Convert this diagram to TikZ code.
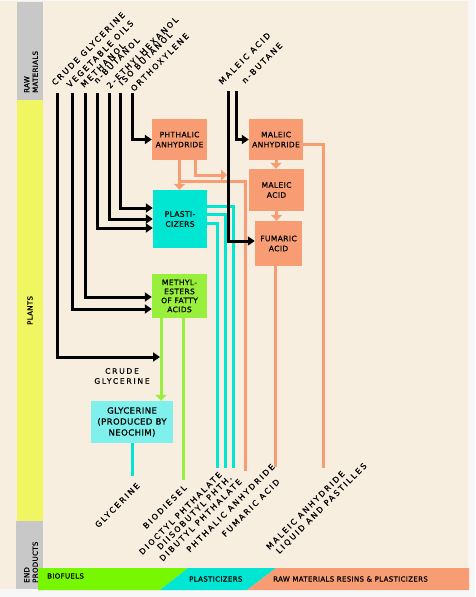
\documentclass[tikz,border=0pt]{standalone}
\usepackage{fontspec}
\newfontfamily\lblfont[LetterSpace=24,FakeBold=0.8]{DejaVu Sans}
\newfontfamily\boxfont[LetterSpace=5,FakeBold=0.8]{DejaVu Sans}
\usetikzlibrary{arrows.meta}
\definecolor{cream}{HTML}{F8EEE0}
\definecolor{colgray}{HTML}{C8C8C8}
\definecolor{colyellow}{HTML}{F0F562}
\definecolor{salmon}{HTML}{F89C74}
\definecolor{cyanbox}{HTML}{00E6D2}
\definecolor{greenbox}{HTML}{99F03C}
\definecolor{greenbar}{HTML}{77F800}
\definecolor{glybox}{HTML}{7FF0EC}

\begin{document}
\begin{tikzpicture}[x=1pt,y=-1pt,
    proc/.style={inner sep=0pt, align=center, font=\boxfont\fontsize{7.5}{10}\selectfont},
    raw/.style={rotate=45, anchor=base west, inner sep=0pt, font=\lblfont\fontsize{8}{9}\selectfont},
    endp/.style={rotate=45, anchor=north east, inner sep=0pt, font=\lblfont\fontsize{8}{9}\selectfont},
    side/.style={rotate=90, anchor=west, inner sep=0pt, align=left, font=\boxfont\fontsize{7}{8.5}\selectfont},
    barlbl/.style={anchor=west, inner sep=0pt, font=\boxfont\fontsize{7}{8}\selectfont},
    blk/.style={line width=3pt, -{Triangle[length=7pt,width=9pt]}},
    sal/.style={draw=salmon, line width=3pt},
    salarr/.style={sal, -{Triangle[length=6pt,width=11pt]}},
    cyn/.style={draw=cyanbox, line width=3pt},
    grn/.style={draw=greenbox, line width=3pt}]
    \useasboundingbox (0,0) rectangle (475,597);
    \fill[white!97!black] (0,0) rectangle (475,597);
    \fill[cream] (0,1) rectangle (468,589);
    % side bands
    \fill[colgray] (17,2) rectangle (43,100);
    \fill[colyellow] (17,100) rectangle (43,521);
    \fill[colgray] (16,521) rectangle (43,589);
    \node[side] (s-raw) at (31,93) {RAW\\MATERIALS};
    \node[side] (s-plants) at (30,325) {PLANTS};
    \node[side] (s-end) at (31,583) {END\\PRODUCTS};
    % bottom bar
    \fill[greenbar] (38,568) -- (188,568) -- (160,590) -- (38,590) -- cycle;
    \fill[cyanbox] (188,568) -- (276,568) -- (247,590) -- (160,590) -- cycle;
    \fill[salmon] (276,568) -- (469,568) -- (469,590) -- (247,590) -- cycle;
    \node[barlbl] (b-bio) at (47,576) {BIOFUELS};
    \node[barlbl] (b-pla) at (189,579) {PLASTICIZERS};
    \node[barlbl] (b-raw) at (273,579) {RAW MATERIALS RESINS \& PLASTICIZERS};

    % raw materials
    \coordinate (crude) at (57,93);
    \coordinate (veg) at (72,93);
    \coordinate (meth) at (85,93);
    \coordinate (nbut) at (97,93);
    \coordinate (ethh) at (109,93);
    \coordinate (isob) at (120,93);
    \coordinate (orth) at (132,93);
    \coordinate (malac) at (228,91);
    \coordinate (nbutane) at (236,91);
    \node[raw] (l-crude) at (55,86) {CRUDE GLYCERINE};
    \node[raw] (l-veg) at (70,88) {VEGETABLE OILS};
    \node[raw] (l-meth) at (84,88) {METHANOL};
    \node[raw] (l-nbut) at (97,84) {n-BUTANOL};
    \node[raw] (l-ethh) at (110,89) {2-ETHYLHEXANOL};
    \node[raw] (l-isob) at (122,86) {ISO BUTANOL};
    \node[raw] (l-orth) at (134,92) {ORTHOXYLENE};
    \node[raw] (l-malac) at (222,85) {MALEIC ACID};
    \node[raw] (l-nbutane) at (245,84) {n-BUTANE};

    % plants
    \node[proc, fill=salmon, minimum width=55pt, minimum height=41pt] (phth) at (179.5,139.5) {PHTHALIC\\ANHYDRIDE};
    \node[proc, fill=salmon, minimum width=54pt, minimum height=41pt] (manh) at (276,139.5) {MALEIC\\ANHYDRIDE};
    \node[proc, fill=salmon, minimum width=55pt, minimum height=42pt] (macid) at (276.5,190) {MALEIC\\ACID};
    \node[proc, fill=salmon, minimum width=47pt, minimum height=45pt] (fum) at (278.5,243.5) {FUMARIC\\ACID};
    \node[proc, fill=cyanbox, minimum width=54pt, minimum height=58pt] (plast) at (180,219) {PLASTI-\\CIZERS};
    \node[proc, fill=greenbox, minimum width=55pt, minimum height=44pt, font=\boxfont\fontsize{7.5}{9}\selectfont] (mest) at (179.5,296) {METHYL-\\ESTERS\\OF FATTY\\ACIDS};
    \node[proc, fill=glybox, minimum width=82pt, minimum height=42pt, font=\boxfont\fontsize{8.5}{11}\selectfont] (glyc) at (132,422) {GLYCERINE\\(PRODUCED BY\\NEOCHIM)};
    \node[inner sep=0pt, align=center, font=\lblfont\fontsize{7.5}{10}\selectfont] (l-cg) at (122,376) {CRUDE\\GLYCERINE};
    \coordinate (gjoin) at (160,357);
    \coordinate (pa-in) at (227,175);

    % end products
    \coordinate (e-gly) at (132,476);
    \coordinate (e-bio) at (183,480);
    \coordinate (e-dop) at (217,468);
    \coordinate (e-dib) at (225,468);
    \coordinate (e-dbp) at (233,468);
    \coordinate (e-pan) at (245,471);
    \coordinate (e-fum) at (275,467);
    \coordinate (e-man) at (323,468);
    \node[endp] (t-gly) at (136,482) {GLYCERINE};
    \node[endp] (t-bio) at (183,484) {BIODIESEL};
    \node[endp] (t-dop) at (218,471) {DIOCTYL PHTHALATE};
    \node[endp] (t-dib) at (228,474) {DIISOBUTYL PHTH.};
    \node[endp] (t-dbp) at (238,478) {DIBUTYL PHTHALATE};
    \node[endp] (t-pan) at (271,463) {PHTHALIC ANHYDRIDE};
    \node[endp] (t-fum) at (276,478) {FUMARIC ACID};
    \node[endp] (t-man) at (341,470) {MALEIC ANHYDRIDE};
    \node[endp] (t-liq) at (363,462) {LIQUID AND PASTILLES};

    % salmon flows
    \draw[salarr] (phth.south) -- (phth.south |- plast.north);
    \draw[salarr] ([xshift=16pt]phth.south) |- (pa-in);
    \draw[sal] ([yshift=-21pt]phth.south) -| (e-pan);
    \draw[salarr] (manh.south) -- (manh.south |- macid.north);
    \draw[salarr] (macid.south) -- (macid.south |- fum.north);
    \draw[sal] ([xshift=-3.5pt]fum.south) -- (e-fum);
    \draw[sal] ([yshift=-4.5pt]manh.east) -| (e-man);

    % cyan and green flows
    \draw[cyn] ([yshift=13pt]plast.east) -| (e-dbp);
    \draw[cyn] ([yshift=5pt]plast.east) -| (e-dib);
    \draw[cyn] ([yshift=-4pt]plast.east) -| (e-dop);
    \draw[grn, -{Triangle[length=6pt,width=11pt]}] ([xshift=-18.5pt]mest.south) -- ([xshift=-18.5pt]mest.south |- glyc.north);
    \draw[grn] ([xshift=3.5pt]mest.south) -- (e-bio);
    \draw[cyn] (glyc.south) -- (e-gly);

    % black feeds
    \draw[blk] (crude) |- (gjoin);
    \draw[blk] (veg) |- ([yshift=-13pt]mest.west);
    \draw[blk] (meth) |- ([yshift=-1pt]mest.west);
    \draw[blk] (nbut) |- ([yshift=-9pt]plast.west);
    \draw[blk] (ethh) |- (plast.west);
    \draw[blk] (isob) |- ([yshift=11pt]plast.west);
    \draw[blk] (orth) |- (phth.west);
    \draw[blk] (malac) |- ([yshift=2.5pt]fum.west);
    \draw[blk] (nbutane) |- (manh.west);
\end{tikzpicture}
\end{document}
